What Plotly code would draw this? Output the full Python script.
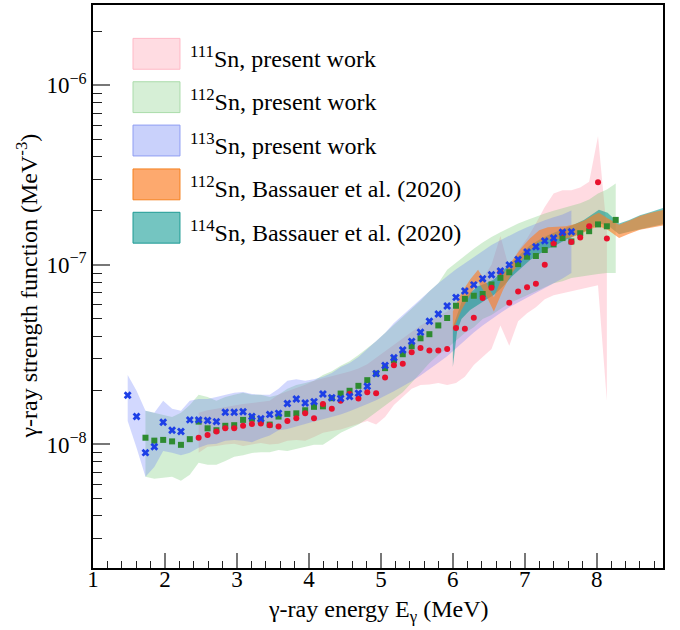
import plotly.graph_objects as go

# gamma-ray strength functions of 111,112,113Sn (Oslo method) compared with
# (p,p') results for 112,114Sn by Bassauer et al. (2020)

UNIT = 1e-8  # all strengths below are given in units of 1e-8 MeV^-3

# energy bin centres (MeV) of the present-work data
e_bins = [1.482, 1.605, 1.729, 1.852, 1.975, 2.099, 2.222, 2.345, 2.468, 2.592,
          2.715, 2.838, 2.962, 3.085, 3.208, 3.332, 3.455, 3.578, 3.701, 3.825,
          3.948, 4.071, 4.195, 4.318, 4.441, 4.565, 4.688, 4.811, 4.934, 5.058,
          5.181, 5.304, 5.428, 5.551, 5.674, 5.798, 5.921, 6.044, 6.167, 6.291,
          6.414, 6.537, 6.661, 6.784, 6.907, 7.031, 7.154, 7.277, 7.400, 7.524,
          7.647, 7.770, 7.894, 8.017, 8.140, 8.263]

# 111Sn, present work (bins 8..54)
sn111_e = e_bins[8:55]
sn111_f = [1.09, 1.13, 1.18, 1.23, 1.23, 1.27, 1.30, 1.31, 1.28, 1.26,
           1.35, 1.40, 1.49, 1.40, 1.68, 1.58, 1.75, 1.91, 1.80, 1.95,
           1.93, 2.36, 2.76, 2.81, 3.26, 3.44, 3.34, 3.34, 3.40, 4.45,
           4.41, 5.08, 6.53, 7.45, 9.14, 6.15, 7.11, 7.51, 7.84, 10.0,
           13.2, 15.1, 13.4, 14.2, 16.4, 28.8, 14.0]
sn111_lo = [0.90, 0.97, 0.98, 1.00, 1.01, 0.98, 1.00, 1.02, 1.00, 1.01,
            1.05, 1.06, 1.05, 1.10, 1.16, 1.19, 1.21, 1.25, 1.30, 1.35,
            1.29, 1.42, 1.66, 1.84, 2.04, 2.14, 2.16, 2.20, 2.14, 2.20,
            2.38, 2.77, 3.07, 3.40, 4.60, 3.54, 4.86, 5.38, 5.81, 6.44,
            6.78, 6.95, 7.13, 7.30, 7.50, 7.70, 1.75]
sn111_hi = [1.50, 1.55, 1.58, 1.62, 1.65, 1.68, 1.70, 1.72, 1.75, 1.90,
            1.98, 2.05, 2.15, 2.26, 2.33, 2.40, 2.46, 2.55, 2.65, 2.80,
            3.04, 3.30, 3.60, 3.90, 4.25, 4.60, 4.90, 5.20, 5.50, 6.00,
            6.40, 7.00, 8.30, 10.0, 14.5, 9.50, 12.0, 14.0, 17.0, 21.0,
            25.0, 26.0, 26.0, 27.0, 29.0, 52.0, 15.5]

# 112Sn, present work (bins 2..55)
sn112_e = e_bins[2:56]
sn112_f = [1.09, 1.05, 1.06, 1.04, 0.995, 1.07, 1.34, 1.23, 1.20, 1.27,
           1.28, 1.37, 1.39, 1.36, 1.29, 1.43, 1.48, 1.49, 1.55, 1.62,
           1.63, 1.81, 1.92, 1.99, 2.12, 2.28, 2.48, 2.66, 2.94, 3.18,
           3.52, 3.90, 4.11, 4.60, 5.06, 5.92, 6.47, 6.73, 6.88, 7.78,
           8.47, 9.10, 10.1, 11.1, 11.2, 12.1, 13.0, 14.1, 13.5, 15.0,
           15.4, 16.8, 16.4, 17.8]
sn112_lo = [0.66, 0.644, 0.65, 0.66, 0.628, 0.678, 0.79, 0.77, 0.77, 0.81,
            0.853, 0.87, 0.897, 0.905, 0.905, 0.93, 0.92, 0.946, 0.97, 0.995,
            0.995, 1.074, 1.16, 1.22, 1.29, 1.39, 1.50, 1.64, 1.79, 1.95,
            2.20, 2.50, 2.84, 3.15, 3.43, 3.76, 4.17, 4.50, 4.99, 5.25,
            5.67, 6.12, 6.44, 6.78, 7.13, 7.51, 7.90, 8.11, 8.45, 8.63,
            8.75, 8.90, 9.00, 9.00]
sn112_hi = [1.54, 1.50, 1.46, 1.42, 1.50, 1.66, 1.89, 1.84, 1.75, 1.84,
            1.89, 1.94, 1.89, 1.89, 1.84, 1.89, 2.04, 2.14, 2.20, 2.26,
            2.44, 2.56, 2.74, 2.91, 3.15, 3.43, 3.76, 4.17, 4.62, 5.12,
            5.67, 6.34, 7.13, 7.90, 9.40, 10.3, 11.3, 12.3, 13.3, 14.3,
            15.2, 16.1, 17.0, 17.8, 18.6, 19.3, 20.0, 20.6, 21.3, 22.0,
            23.1, 25.0, 26.3, 28.4]

# 113Sn, present work (bins 0..50)
sn113_e = e_bins[0:51]
sn113_f = [1.88, 1.43, 0.90, 0.97, 1.33, 1.20, 1.18, 1.37, 1.37, 1.36,
           1.34, 1.51, 1.51, 1.52, 1.43, 1.39, 1.47, 1.49, 1.69, 1.79,
           1.70, 1.73, 1.91, 1.82, 1.80, 1.85, 1.93, 2.11, 2.48, 2.75,
           3.04, 3.36, 3.75, 4.22, 4.85, 5.32, 5.90, 6.59, 7.15, 7.74,
           8.36, 8.80, 9.26, 10.0, 10.7, 11.8, 12.6, 13.6, 14.1, 15.2,
           15.3]
sn113_lo = [1.35, 0.96, 0.66, 0.75, 0.92, 0.90, 0.87, 0.90, 0.96, 1.00,
            1.01, 1.05, 1.06, 1.05, 1.03, 1.08, 1.12, 1.20, 1.22, 1.26,
            1.30, 1.34, 1.38, 1.42, 1.47, 1.53, 1.60, 1.68, 1.76, 1.87,
            1.98, 2.10, 2.25, 2.42, 2.62, 2.85, 3.10, 3.40, 3.80, 4.20,
            4.60, 5.00, 5.40, 5.80, 6.20, 6.60, 7.00, 7.40, 7.90, 8.40,
            9.00]
sn113_hi = [2.44, 1.99, 1.54, 1.50, 1.75, 1.58, 1.54, 1.75, 1.79, 1.79,
            1.84, 1.89, 1.94, 1.96, 1.91, 1.89, 1.89, 2.04, 2.26, 2.31,
            2.26, 2.31, 2.38, 2.50, 2.70, 2.84, 3.07, 3.40, 3.76, 4.17,
            4.74, 5.25, 5.81, 6.44, 7.13, 7.90, 8.63, 9.46, 10.2, 11.0,
            11.9, 12.9, 13.7, 14.6, 15.4, 16.2, 17.0, 17.7, 18.4, 19.1,
            20.1]

# 112Sn, Bassauer et al. (2020)
bas112_e = [6.00, 6.12, 6.24, 6.35, 6.46, 6.57, 6.70, 6.82, 6.95, 7.07,
            7.20, 7.32, 7.45, 7.57, 7.70, 7.82, 7.95, 8.03, 8.15, 8.31,
            8.45, 8.60, 8.75, 9.00]
bas112_lo = [4.3, 5.6, 6.8, 8.1, 6.8, 5.5, 7.3, 9.0, 10.5, 12.0,
             13.4, 13.8, 13.9, 14.0, 14.5, 15.2, 16.0, 16.4, 15.7, 14.1,
             14.9, 15.7, 16.2, 16.8]
bas112_hi = [5.5, 7.0, 8.3, 9.4, 8.0, 6.6, 8.8, 10.5, 12.4, 14.0,
             15.6, 16.2, 16.3, 16.4, 16.9, 17.6, 18.9, 19.5, 18.2, 16.7,
             17.6, 18.7, 19.5, 20.5]

# 114Sn, Bassauer et al. (2020)
bas114_e = [6.00, 6.06, 6.12, 6.24, 6.35, 6.46, 6.57, 6.70, 6.82, 6.95,
            7.07, 7.20, 7.32, 7.45, 7.57, 7.70, 7.82, 7.95, 8.03, 8.15,
            8.31, 8.45, 8.60, 8.75, 9.00]
bas114_lo = [2.7, 4.3, 5.0, 5.6, 6.0, 6.4, 6.8, 7.6, 8.6, 9.6,
             10.6, 11.5, 12.3, 13.0, 13.8, 14.6, 15.3, 16.2, 17.0, 16.6,
             14.8, 15.3, 15.8, 16.3, 17.1]
bas114_hi = [4.5, 5.3, 6.2, 7.0, 7.6, 7.9, 8.3, 9.3, 10.4, 11.6,
             12.8, 13.8, 14.6, 15.3, 16.0, 16.9, 17.8, 19.2, 20.3, 19.5,
             17.0, 17.8, 18.9, 19.7, 21.2]

x_ticks = [1, 2, 3, 4, 5, 6, 7, 8]
y_ticks = [1e-8, 1e-7, 1e-6]
y_tick_text = ["10<sup>\u22128</sup>", "10<sup>\u22127</sup>", "10<sup>\u22126</sup>"]

legend_labels = ["<sup>111</sup>Sn, present work",
                 "<sup>112</sup>Sn, present work",
                 "<sup>113</sup>Sn, present work",
                 "<sup>112</sup>Sn, Bassauer et al. (2020)",
                 "<sup>114</sup>Sn, Bassauer et al. (2020)"]

FONT = "'Liberation Serif', 'DejaVu Serif', 'Times New Roman', Times, serif"

# colours: (band fill, legend box fill, legend box edge)
C111 = ("rgba(255,110,140,0.25)", "#ffdce2", "#ffb9c6")
C112 = ("rgba(110,200,110,0.30)", "#d6efd6", "#aadcaa")
C113 = ("rgba(95,115,250,0.28)", "#c9d1fb", "#8f9ef3")
CB112 = ("rgba(255,125,35,0.62)", "#fda96e", "#f5801f")
CB114 = ("rgba(0,150,140,0.55)", "#74c5c1", "#1e9b94")


def band(xs, lo, hi, fill):
    return go.Scatter(
        x=list(xs) + list(xs)[::-1],
        y=[v * UNIT for v in hi] + [v * UNIT for v in lo][::-1],
        fill="toself", fillcolor=fill, mode="lines",
        line=dict(width=0), hoverinfo="skip", showlegend=False)


fig = go.Figure()
fig.add_trace(band(sn111_e, sn111_lo, sn111_hi, C111[0]))
fig.add_trace(band(sn112_e, sn112_lo, sn112_hi, C112[0]))
fig.add_trace(band(sn113_e, sn113_lo, sn113_hi, C113[0]))
fig.add_trace(band(bas114_e, bas114_lo, bas114_hi, CB114[0]))
fig.add_trace(band(bas112_e, bas112_lo, bas112_hi, CB112[0]))

fig.add_trace(go.Scatter(x=sn112_e, y=[v * UNIT for v in sn112_f], mode="markers",
                         marker=dict(symbol="square", size=6, color="#2e8b31"),
                         showlegend=False))
fig.add_trace(go.Scatter(x=sn111_e, y=[v * UNIT for v in sn111_f], mode="markers",
                         marker=dict(symbol="circle", size=6, color="#e8112d"),
                         showlegend=False))
fig.add_trace(go.Scatter(x=sn113_e, y=[v * UNIT for v in sn113_f], mode="markers",
                         marker=dict(symbol="x", size=7, color="#1d3fe6"),
                         showlegend=False))

# hand-built legend: coloured boxes, sample markers and labels
row_y = [0.9133, 0.8363, 0.7593, 0.6814, 0.6044]
box_x0, box_x1, box_h = 0.0702, 0.1526, 0.0274
box_colors = [C111, C112, C113, CB112, CB114]
shapes = []
annotations = []
for yc, col, label in zip(row_y, box_colors, legend_labels):
    shapes.append(dict(type="rect", xref="paper", yref="paper",
                       x0=box_x0, x1=box_x1, y0=yc - box_h, y1=yc + box_h,
                       fillcolor=col[1], line=dict(color=col[2], width=1),
                       layer="above"))
    annotations.append(dict(xref="paper", yref="paper", x=0.1667, y=yc,
                            xanchor="left", yanchor="middle", showarrow=False,
                            text=label, font=dict(family=FONT, size=24, color="black"),
                            yshift=-3))

mx = (box_x0 + box_x1) / 2
fig.add_trace(go.Scatter(x=[mx], y=[row_y[0]], xaxis="x2", yaxis="y2", mode="markers",
                         marker=dict(symbol="circle", size=5, color="#e8112d"),
                         showlegend=False, hoverinfo="skip"))
fig.add_trace(go.Scatter(x=[mx], y=[row_y[1]], xaxis="x2", yaxis="y2", mode="markers",
                         marker=dict(symbol="square", size=5, color="#2e8b31"),
                         showlegend=False, hoverinfo="skip"))
fig.add_trace(go.Scatter(x=[mx], y=[row_y[2]], xaxis="x2", yaxis="y2", mode="markers",
                         marker=dict(symbol="x", size=6, color="#1d3fe6"),
                         showlegend=False, hoverinfo="skip"))

# axis titles
annotations.append(dict(xref="paper", yref="paper", x=0.5, y=0, xanchor="center",
                        yanchor="top", yshift=-26, showarrow=False,
                        text="\u03b3-ray energy E<sub>\u03b3</sub> (MeV)",
                        font=dict(family=FONT, size=24, color="black")))
annotations.append(dict(xref="paper", yref="paper", x=0, y=0.5, xanchor="center",
                        yanchor="middle", xshift=-67, textangle=-90, showarrow=False,
                        text="\u03b3-ray strength function (MeV<sup>-3</sup>)",
                        font=dict(family=FONT, size=24, color="black")))

minor_y = [m * 10 ** p for p in (-9, -8, -7, -6) for m in range(2, 10)]

fig.update_layout(
    width=680, height=630,
    margin=dict(l=93, r=17, t=3, b=62),
    paper_bgcolor="white", plot_bgcolor="white",
    font=dict(family=FONT, size=23, color="black"),
    showlegend=False,
    xaxis=dict(range=[1, 8.92], tickmode="array", tickvals=x_ticks,
               ticks="inside", ticklen=15, tickwidth=1.5, tickcolor="#777",
               ticklabelstandoff=-10,
               minor=dict(ticks="inside", ticklen=7, tickwidth=1.2, tickcolor="#222",
                          dtick=0.2, showgrid=False),
               showline=True, linecolor="black", linewidth=1.5, mirror=True,
               showgrid=False, zeroline=False,
               tickfont=dict(family=FONT, size=23, color="black")),
    yaxis=dict(type="log", range=[-8.688, -5.553], tickmode="array",
               tickvals=y_ticks, ticktext=y_tick_text,
               ticks="inside", ticklen=17, tickwidth=1.5, tickcolor="#777",
               minor=dict(ticks="inside", ticklen=9, tickwidth=1.2, tickcolor="#222",
                          tickmode="array", tickvals=minor_y, showgrid=False),
               showline=True, linecolor="black", linewidth=1.5, mirror=True,
               showgrid=False, zeroline=False,
               tickfont=dict(family=FONT, size=23, color="black")),
    xaxis2=dict(overlaying="x", range=[0, 1], visible=False),
    yaxis2=dict(overlaying="y", range=[0, 1], visible=False),
    shapes=shapes,
    annotations=annotations,
)

fig.write_html("out.html")
